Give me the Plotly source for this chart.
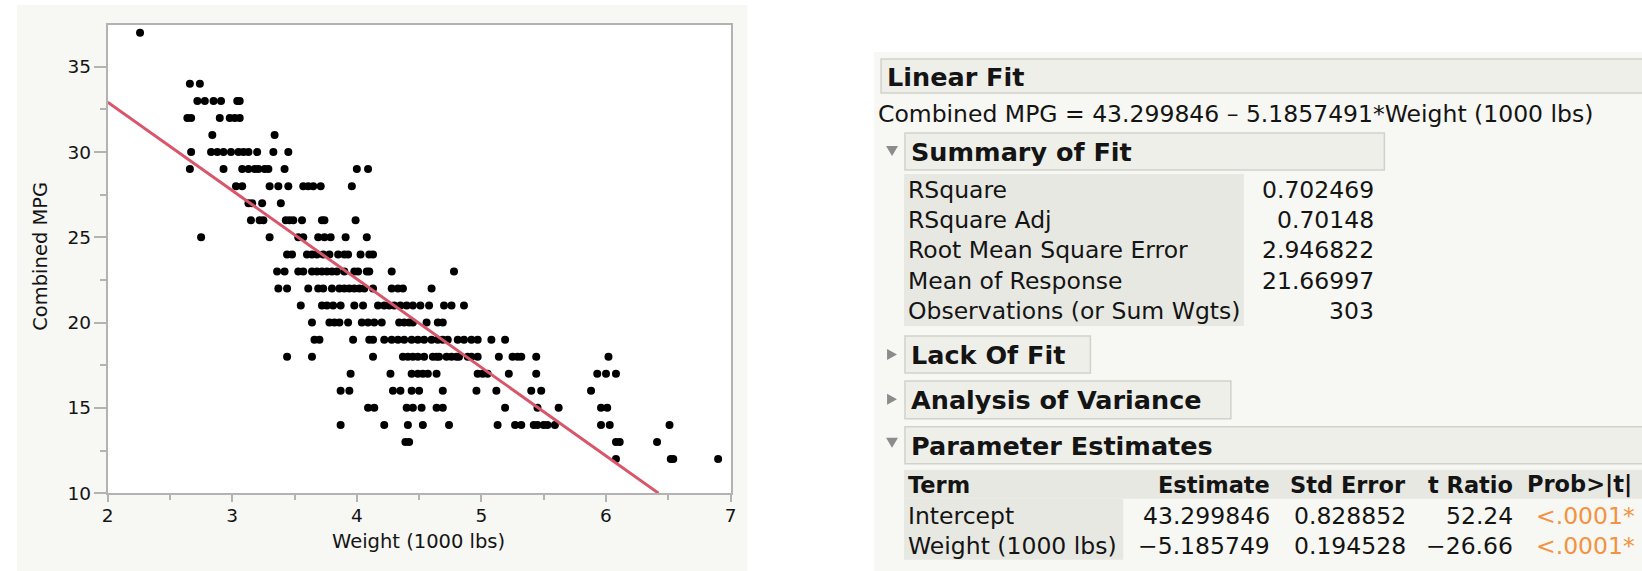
import plotly.graph_objects as go

W, H = 1642, 571

# Vehicle weight (1000 lbs) grouped by combined MPG level
w_mpg37 = [2.26]
w_mpg34 = [2.66, 2.74]
w_mpg33 = [2.72, 2.78, 2.85, 2.91, 3.04, 3.06]
w_mpg32 = [2.64, 2.67, 2.90, 2.98, 3.02, 3.06]
w_mpg31 = [2.84, 3.34]
w_mpg30 = [2.67, 2.83, 2.88, 2.93, 2.99, 3.05, 3.09, 3.13, 3.20, 3.33, 3.45]
w_mpg29 = [2.66, 2.93, 3.08, 3.13, 3.18, 3.21, 3.26, 3.29, 3.42, 4.00, 4.09]
w_mpg28 = [3.03, 3.08, 3.30, 3.37, 3.45, 3.57, 3.61, 3.65, 3.71, 3.96]
w_mpg27 = [3.13, 3.16, 3.24, 3.39]
w_mpg26 = [3.15, 3.22, 3.25, 3.43, 3.46, 3.49, 3.56, 3.72, 3.74, 3.99]
w_mpg25 = [2.75, 3.30, 3.53, 3.57, 3.69, 3.74, 3.79, 3.91, 4.08]
w_mpg24 = [3.44, 3.48, 3.60, 3.64, 3.68, 3.73, 3.78, 3.85, 3.90, 3.93, 4.03, 4.10, 4.13]
w_mpg23 = [3.36, 3.42, 3.53, 3.57, 3.64, 3.68, 3.72, 3.76, 3.80, 3.84, 3.90, 3.98, 4.01,
           4.08, 4.10, 4.28, 4.78]
w_mpg22 = [3.37, 3.44, 3.61, 3.69, 3.73, 3.80, 3.86, 3.90, 3.94, 3.98, 4.02, 4.06, 4.13,
           4.28, 4.33, 4.37, 4.60]
w_mpg21 = [3.55, 3.72, 3.76, 3.81, 3.87, 3.98, 4.05, 4.17, 4.22, 4.26, 4.30, 4.35, 4.40,
           4.45, 4.51, 4.58, 4.70, 4.76, 4.86]
w_mpg20 = [3.64, 3.78, 3.82, 3.86, 3.93, 4.04, 4.09, 4.14, 4.20, 4.34, 4.38, 4.42, 4.45,
           4.56, 4.65, 4.69]
w_mpg19 = [3.66, 3.70, 3.97, 4.10, 4.13, 4.22, 4.28, 4.33, 4.38, 4.44, 4.49, 4.54, 4.60,
           4.65, 4.69, 4.73, 4.81, 4.86, 4.92, 4.97, 5.08, 5.19]
w_mpg18 = [3.44, 3.64, 4.13, 4.37, 4.41, 4.45, 4.49, 4.54, 4.61, 4.64, 4.66, 4.72, 4.76,
           4.80, 4.82, 4.89, 4.92, 4.97, 5.14, 5.25, 5.29, 5.32, 5.44, 6.02]
w_mpg17 = [3.95, 4.27, 4.44, 4.49, 4.53, 4.57, 4.64, 4.97, 5.01, 5.05, 5.22, 5.44, 5.93,
           6.00, 6.08]
w_mpg16 = [3.87, 3.94, 4.29, 4.35, 4.44, 4.50, 4.69, 4.96, 5.12, 5.40, 5.48, 5.88]
w_mpg15 = [4.09, 4.14, 4.40, 4.45, 4.52, 4.64, 4.69, 5.19, 5.45, 5.62, 5.96, 6.01]
w_mpg14 = [3.87, 4.22, 4.41, 4.53, 4.74, 5.13, 5.27, 5.32, 5.42, 5.45, 5.50, 5.53, 5.59,
           5.96, 6.03, 6.51]
w_mpg13 = [4.39, 4.42, 6.08, 6.11, 6.41]
w_mpg12 = [6.08, 6.52, 6.54, 6.90]

mpg_levels = [37, 34, 33, 32, 31, 30, 29, 28, 27, 26, 25, 24, 23, 22, 21, 20, 19, 18,
              17, 16, 15, 14, 13, 12]
weight_groups = [w_mpg37, w_mpg34, w_mpg33, w_mpg32, w_mpg31, w_mpg30, w_mpg29, w_mpg28,
                 w_mpg27, w_mpg26, w_mpg25, w_mpg24, w_mpg23, w_mpg22, w_mpg21, w_mpg20,
                 w_mpg19, w_mpg18, w_mpg17, w_mpg16, w_mpg15, w_mpg14, w_mpg13, w_mpg12]

# Fitted line coefficients
intercept = 43.299846
slope = -5.1857491

# Report values
summary_labels = ["RSquare", "RSquare Adj", "Root Mean Square Error", "Mean of Response",
                  "Observations (or Sum Wgts)"]
summary_values = ["0.702469", "0.70148", "2.946822", "21.66997", "303"]
param_columns = ["Term", "Estimate", "Std Error", "t Ratio", "Prob>|t|"]
param_terms = ["Intercept", "Weight (1000 lbs)"]
param_estimate = ["43.299846", "-5.185749"]
param_stderr = ["0.828852", "0.194528"]
param_tratio = ["52.24", "-26.66"]
param_prob = ["<.0001*", "<.0001*"]

x_pts, y_pts = [], []
for mpg, ws in zip(mpg_levels, weight_groups):
    x_pts += ws
    y_pts += [mpg] * len(ws)

x_range = [2, 7]
line_x = [2, (10 - intercept) / slope]
line_y = [intercept + slope * v for v in line_x]

FONT = "DejaVu Sans"
TXT = "#141414"
PANEL = "#f7f7f3"
BOX = "#efefea"
BOX_LINE = "#d2d2cc"
LABEL_BG = "#e8e8e2"

# Layout positions below are in a pixel grid slightly tighter than the page;
# these factors map that grid onto the 1642x571 page.
SX, SY = 1.004, 1.0175


def px(x):
    return x * SX / W


def py(y):
    return 1 - y * SY / H


fig = go.Figure()
fig.add_trace(go.Scatter(x=x_pts, y=y_pts, mode="markers",
                         marker=dict(color="black", size=8, line=dict(width=0)),
                         hoverinfo="skip"))
fig.add_trace(go.Scatter(x=line_x, y=line_y, mode="lines",
                         line=dict(color="#d9566a", width=3), hoverinfo="skip"))

shapes = []


def rect(x0, y0, x1, y1, fill, line=None, lw=0, layer="below"):
    shapes.append(dict(type="rect", xref="paper", yref="paper",
                       x0=px(x0), x1=px(x1), y0=py(y1), y1=py(y0),
                       fillcolor=fill, line=dict(color=line or fill, width=lw),
                       layer=layer))


def tri(points, color="#8c8c8c"):
    path = "M " + " L ".join(f"{px(a)},{py(b)}" for a, b in points) + " Z"
    shapes.append(dict(type="path", xref="paper", yref="paper", path=path,
                       fillcolor=color, line=dict(color=color, width=0), layer="above"))


PLOT_L, PLOT_R, PLOT_T, PLOT_B = 102.0, 727.0, 25, 493.3

# Panels behind the graph and the report
rect(11, 5, 744, 580, PANEL)
rect(PLOT_L, PLOT_T, PLOT_R, PLOT_B, "white")
rect(871, 52, 1650, 580, PANEL)

# Report outline boxes
rect(878, 59, 1650, 93, BOX, BOX_LINE, 1.5)
rect(902, 133, 1383, 170, BOX, BOX_LINE, 1.5)
rect(901, 174, 1242, 326, LABEL_BG)
rect(902, 336, 1088, 373, BOX, BOX_LINE, 1.5)
rect(902, 381, 1229, 419, BOX, BOX_LINE, 1.5)
rect(902, 427, 1650, 464, BOX, BOX_LINE, 1.5)
rect(901, 470, 1650, 499, LABEL_BG)
rect(901, 499, 1121, 560, LABEL_BG)

# Disclosure triangles
tri([(883, 146), (895, 146), (889, 156)])
tri([(884, 349), (884, 360), (894, 354.5)])
tri([(884, 394), (884, 405), (894, 399.5)])
tri([(883, 438), (895, 438), (889, 448)])

ann = []


def text(x, y, s, size=23.5, bold=False, anchor="left", color=TXT):
    if bold:
        s = f"<b>{s}</b>"
    ann.append(dict(xref="paper", yref="paper", x=px(x), y=py(y), text=s,
                    showarrow=False, xanchor=anchor, yanchor="middle",
                    font=dict(family=FONT, size=size, color=color)))


text(882, 77, "Linear Fit", 25.5, True)
text(873, 114, "Combined MPG = 43.299846 \u2013 5.1857491*Weight (1000 lbs)")
text(906, 152, "Summary of Fit", 25.5, True)
row_y = [190, 220, 250, 281, 311]
for yy, lab, val in zip(row_y, summary_labels, summary_values):
    text(903, yy, lab)
    text(1375, yy, val, anchor="right")
text(906, 355, "Lack Of Fit", 25.5, True)
text(906, 400, "Analysis of Variance", 25.5, True)
text(906, 446, "Parameter Estimates", 25.5, True)

col_right = [None, 1270, 1407, 1514]
text(903, 485, param_columns[0], 22.5, bold=True)
for i in range(1, 4):
    text(col_right[i], 485, param_columns[i], 22.5, bold=True, anchor="right")
text(1524, 485, param_columns[4], 22.5, bold=True)
for yy, t, e, se, tr, p in zip([516, 546], param_terms, param_estimate, param_stderr,
                               param_tratio, param_prob):
    text(903, yy, t)
    text(col_right[1], yy, e.replace("-", "\u2212"), anchor="right")
    text(col_right[2], yy, se, anchor="right")
    text(col_right[3], yy, tr.replace("-", "\u2212"), anchor="right")
    text(1533, yy, p, color="#f39241")

# Axis titles
text(414, 542, "Weight (1000 lbs)", 19.5, anchor="center")
ann.append(dict(xref="paper", yref="paper", x=px(35), y=py(256), text="Combined MPG",
                showarrow=False, textangle=-90, xanchor="center", yanchor="middle",
                font=dict(family=FONT, size=19.5, color=TXT)))

axis_common = dict(showline=True, linecolor="#b3b3b3", linewidth=2, mirror=True,
                   showgrid=False, zeroline=False, ticks="outside", tickcolor="#b3b3b3",
                   tickwidth=2, tickfont=dict(family=FONT, size=18.5, color=TXT),
                   fixedrange=True)

fig.update_layout(
    width=W, height=H,
    margin=dict(l=0, r=0, t=0, b=0),
    paper_bgcolor="white", plot_bgcolor="white",
    showlegend=False, hovermode=False,
    xaxis=dict(domain=[px(PLOT_L), px(PLOT_R)], range=x_range, dtick=1, ticklen=7,
               minor=dict(dtick=0.5, ticklen=5, tickcolor="#b3b3b3", tickwidth=2,
                          ticks="outside"),
               ticklabelstandoff=-2, **axis_common),
    yaxis=dict(domain=[py(PLOT_B), py(PLOT_T)], range=[10, 37.45], dtick=5, ticklen=12,
               minor=dict(dtick=2.5, ticklen=6, tickcolor="#b3b3b3", tickwidth=2,
                          ticks="outside"),
               ticklabelstandoff=-1, **axis_common),
    shapes=shapes, annotations=ann,
)

fig.write_html("out.html")
